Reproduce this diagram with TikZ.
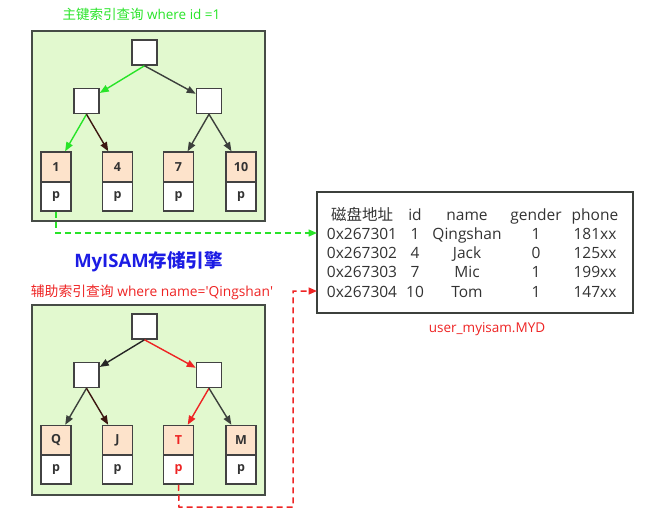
\documentclass[tikz,border=0pt]{standalone}
\usepackage{fontspec}
\setmainfont{Open Sans}
\newfontfamily\cjk{Noto Sans CJK SC}
\usetikzlibrary{arrows.meta}
\definecolor{panelfill}{RGB}{226,249,207}
\definecolor{panelline}{RGB}{70,76,70}
\definecolor{peach}{RGB}{253,227,203}
\definecolor{hgreen}{RGB}{40,228,40}
\definecolor{hred}{RGB}{238,36,36}
\definecolor{hblue}{RGB}{28,28,228}
\definecolor{darkgray}{RGB}{60,64,60}
\definecolor{darkbrown}{RGB}{60,22,16}
\definecolor{boxline}{RGB}{66,66,66}
\definecolor{txt}{RGB}{51,51,51}
\tikzset{
  panel/.style={draw=panelline, fill=panelfill, line width=1.6pt},
  inner/.style={draw=boxline, fill=white, line width=1.5pt, minimum width=25pt, minimum height=25pt, inner sep=0pt},
  leaftop/.style={draw=boxline, fill=peach, line width=1.5pt, minimum width=30pt, minimum height=30pt, inner sep=0pt, font=\fontsize{12.5}{13}\selectfont\bfseries, text=txt},
  leafbot/.style={draw=boxline, fill=white, line width=1.5pt, minimum width=30pt, minimum height=29pt, inner sep=0pt, font=\fontsize{12.5}{13}\selectfont\bfseries, text=txt},
  edge/.style={line width=1.4pt, -{Triangle[length=9pt,width=7pt]}},
  dashlink/.style={line width=1.5pt, dash pattern=on 6pt off 4pt, -{Triangle[length=8.5pt,width=7pt]}},
  cell/.style={anchor=base, inner sep=0pt, font=\fontsize{15.5}{17}\selectfont, text=txt},
  tablebox/.style={draw=darkgray, line width=1.5pt},
  label/.style={anchor=base, inner sep=0pt, font=\fontsize{13.5}{15}\selectfont},
}
\begin{document}
\begin{tikzpicture}[x=1pt,y=-1pt]
\useasboundingbox (0,0) rectangle (655,522);
% ---------- top panel ----------
\node[label, text=hgreen] (ttitle) at (141.5,19) {{\cjk 主键索引查询} where id =1};
\draw[panel] (32,31) rectangle (265,221);
\node[inner] (troot) at (144.5,52.5) {};
\node[inner] (tml) at (86.5,101) {};
\node[inner] (tmr) at (209,101) {};
\node[leaftop] (tl1) at (56,167) {1};
\node[leafbot] (tp1) at (56,196.5) {p};
\node[leaftop] (tl2) at (117.5,167) {4};
\node[leafbot] (tp2) at (117.5,196.5) {p};
\node[leaftop] (tl3) at (178.5,167) {7};
\node[leafbot] (tp3) at (178.5,196.5) {p};
\node[leaftop] (tl4) at (241,167) {10};
\node[leafbot] (tp4) at (241,196.5) {p};
\draw[edge, hgreen] (troot.south) -- (tml);
\draw[edge, darkgray] (troot.south) -- (tmr);
\draw[edge, hgreen] (tml.south) -- (tl1);
\draw[edge, darkbrown] (tml.south) -- (tl2);
\draw[edge, darkgray] (tmr.south) -- (tl3);
\draw[edge, darkgray] (tmr.south) -- (tl4);
% ---------- middle title ----------
\node[anchor=base, inner sep=0pt, text=hblue, font=\fontsize{18.5}{20}\selectfont\bfseries] (engine) at (148.5,267) {MyISAM{\cjk 存储引擎}};
% ---------- bottom panel ----------
\node[label, text=hred, font=\fontsize{13.8}{15}\selectfont] (btitle) at (152,296.5) {{\cjk 辅助索引查询} where name=\textquotesingle Qingshan\textquotesingle};
\draw[panel] (32,305) rectangle (265,495);
\node[inner] (broot) at (144.5,326.5) {};
\node[inner] (bml) at (86.5,375) {};
\node[inner] (bmr) at (209,375) {};
\node[leaftop] (bl1) at (56,440.5) {Q};
\node[leafbot] (bp1) at (56,469.5) {p};
\node[leaftop] (bl2) at (117.5,440.5) {J};
\node[leafbot] (bp2) at (117.5,469.5) {p};
\node[leaftop, text=hred] (bl3) at (178.5,440.5) {T};
\node[leafbot, text=hred] (bp3) at (178.5,469.5) {p};
\node[leaftop] (bl4) at (241,440.5) {M};
\node[leafbot] (bp4) at (241,469.5) {p};
\draw[edge, black!85] (broot.south) -- (bml);
\draw[edge, hred] (broot.south) -- (bmr);
\draw[edge, darkgray] (bml.south) -- (bl1);
\draw[edge, darkbrown] (bml.south) -- (bl2);
\draw[edge, hred] (bmr.south) -- (bl3);
\draw[edge, darkgray] (bmr.south) -- (bl4);
% ---------- table ----------
\draw[tablebox] (317,192) rectangle (633,313);
\coordinate (tin1) at (317,233);
\coordinate (tin2) at (317,291);
\node[cell] (h0) at (362,220) {\cjk 磁盘地址};
\node[cell] (h1) at (415,220) {id};
\node[cell] (h2) at (467,220) {name};
\node[cell] (h3) at (536,220) {gender};
\node[cell] (h4) at (595,220) {phone};
\foreach \r/\yy/\a/\b/\c/\d/\e in {1/239/0x267301/1/Qingshan/1/181xx, 2/258/0x267302/4/Jack/0/125xx, 3/277.5/0x267303/7/Mic/1/199xx, 4/297/0x267304/10/Tom/1/147xx}{
  \node[cell] (r\r c0) at (362,\yy) {\a};
  \node[cell] (r\r c1) at (415,\yy) {\b};
  \node[cell] (r\r c2) at (467,\yy) {\c};
  \node[cell] (r\r c3) at (536,\yy) {\d};
  \node[cell] (r\r c4) at (595,\yy) {\e};
}
\node[label, text=hred] (fname) at (487,332) {user\_myisam.MYD};
% ---------- dashed links ----------
\coordinate (gc1) at (56,233);
\draw[dashlink, hgreen] (tp1.south) -- (gc1) -- (tin1);
\coordinate (rc1) at (179,507);
\coordinate (rc2) at (293,507);
\coordinate (rc3) at (293,291);
\draw[dashlink, hred] (bp3.south) -- (rc1) -- (rc2) -- (rc3) -- (tin2);
\end{tikzpicture}
\end{document}
